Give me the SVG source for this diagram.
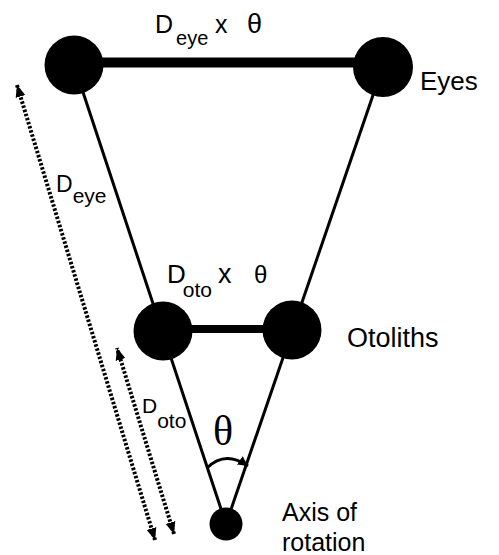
<svg xmlns="http://www.w3.org/2000/svg" width="499" height="555" viewBox="0 0 499 555">
  <style>
    .lbl { font-family: "Liberation Sans", Arial, sans-serif; fill: #000; }
    .arm { stroke: #000; stroke-width: 3; fill: none; }
    .bar { stroke: #000; fill: none; }
    .dist { stroke: #000; stroke-width: 4; stroke-dasharray: 2.5 1.8; fill: none; }
    .node { fill: #000; }
  </style>
  <defs>
    <marker id="head" markerUnits="userSpaceOnUse" markerWidth="14" markerHeight="12" refX="12" refY="6" orient="auto-start-reverse">
      <path d="M0,1 L12,6 L0,11 Z" fill="#000"/>
    </marker>
    <marker id="arcHead" markerUnits="userSpaceOnUse" markerWidth="12" markerHeight="10" refX="10" refY="5" orient="auto">
      <path d="M0,0 L10,5 L0,10 Z" fill="#000"/>
    </marker>
  </defs>

  <!-- connectors: arms to the rotation axis, head bars, distance arrows, angle arc -->
  <g id="connectors">
    <line class="arm" x1="74" y1="65" x2="226" y2="524"/>
    <line class="arm" x1="383" y1="66" x2="226" y2="524"/>
    <line class="bar" x1="74" y1="62.5" x2="383" y2="62.5" stroke-width="10"/>
    <line class="bar" x1="163" y1="329" x2="292" y2="329" stroke-width="8"/>
    <line class="dist" x1="155" y1="540" x2="17" y2="85" marker-start="url(#head)" marker-end="url(#head)"/>
    <line class="dist" x1="174" y1="534" x2="117" y2="348" marker-start="url(#head)" marker-end="url(#head)"/>
    <path class="arm" d="M207,468 Q225,450 248,466" stroke-width="2.5" marker-end="url(#arcHead)"/>
  </g>

  <g id="eye-left"><circle class="node" cx="74" cy="65" r="29.5"/></g>
  <g id="eye-right"><circle class="node" cx="383" cy="67" r="30"/></g>
  <g id="oto-left"><circle class="node" cx="163" cy="331" r="29.5"/></g>
  <g id="oto-right"><circle class="node" cx="292" cy="330" r="29.5"/></g>
  <g id="axis"><circle class="node" cx="226" cy="524" r="16.5"/></g>

  <!-- labels -->
  <g id="labels">
    <text class="lbl" x="155" y="33" font-size="25">D<tspan dx="3" dy="12" font-size="20">eye</tspan></text>
    <text class="lbl" x="215" y="33" font-size="25">x</text>
    <text class="lbl" x="247" y="33" font-size="27">θ</text>

    <text class="lbl" x="420" y="90" font-size="26">Eyes</text>

    <text class="lbl" x="56" y="192" font-size="23">D<tspan dx="0" dy="11" font-size="21">eye</tspan></text>

    <text class="lbl" x="167" y="283" font-size="26">D<tspan dx="-3" dy="14" font-size="21">oto</tspan></text>
    <text class="lbl" x="218" y="283" font-size="27">x</text>
    <text class="lbl" x="254" y="283" font-size="24">θ</text>

    <text class="lbl" x="142" y="413" font-size="21">D<tspan dx="0" dy="15" font-size="21">oto</tspan></text>

    <text class="lbl" x="347" y="347" font-size="27">Otoliths</text>

    <text x="213" y="445" font-size="42" font-family="'Liberation Serif', 'Times New Roman', serif">θ</text>

    <text class="lbl" x="282" y="521" font-size="25">Axis of</text>
    <text class="lbl" x="282" y="551" font-size="25">rotation</text>
  </g>
</svg>
